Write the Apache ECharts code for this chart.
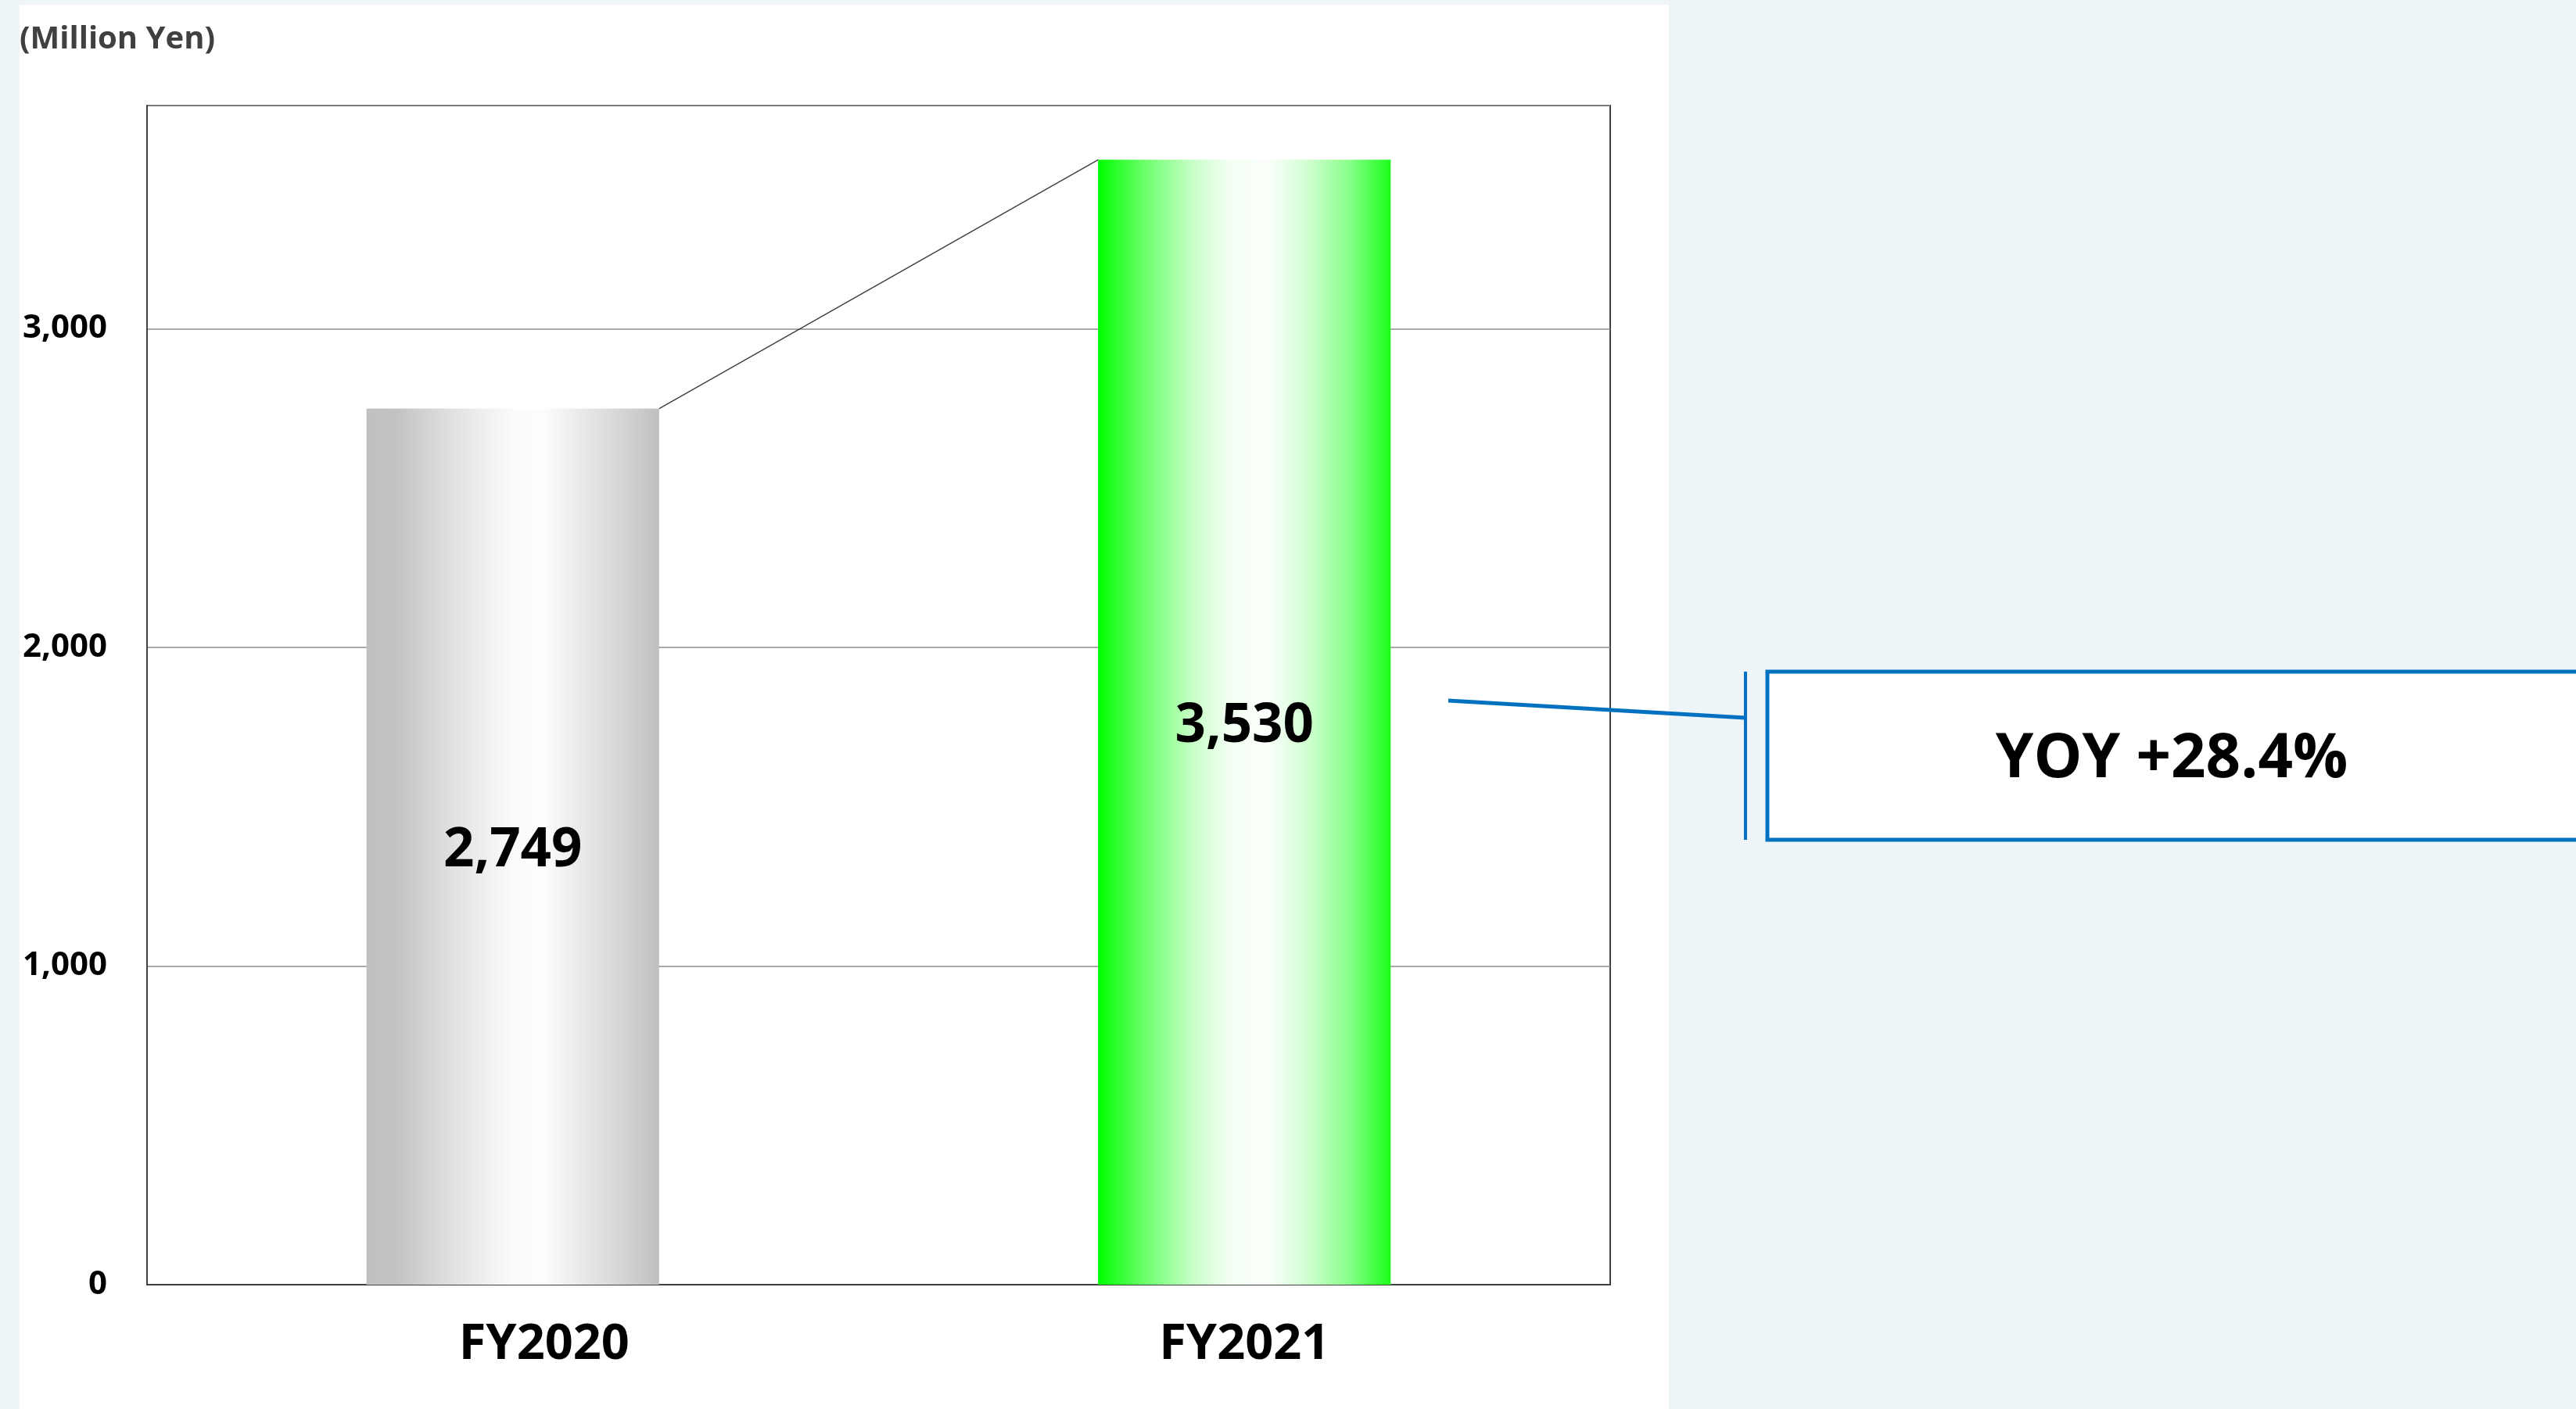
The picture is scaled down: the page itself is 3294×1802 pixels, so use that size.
<!DOCTYPE html>
<html>
<head>
<meta charset="utf-8">
<script src="https://cdn.jsdelivr.net/npm/echarts@6/dist/echarts.min.js"></script>
<style>
  html, body { margin: 0; padding: 0; width: 3294px; height: 1802px; background: #EDF5F9; overflow: hidden; }
  #panel { position: absolute; left: 25px; top: 6px; width: 2109px; height: 1796px; background: #ffffff; }
  #chart { position: absolute; left: 0; top: 0; width: 3294px; height: 1802px; }
</style>
</head>
<body>
<div id="panel"></div>
<div id="chart"></div>
<script>
// ---- data ----
const categories = ['FY2020', 'FY2021'];
const values = [2749, 3530];
const unitLabel = '(Million Yen)';
const yoyPrefix = 'YOY ';

const FONT = '"Open Sans", "Noto Sans", sans-serif';
const fmt = v => v.toLocaleString('en-US');
const yoy = (values[1] / values[0] - 1) * 100;
const yoyText = yoyPrefix + (yoy >= 0 ? '+' : '') + yoy.toFixed(1) + '%';

const gray = {
  type: 'linear', x: 0, y: 0, x2: 1, y2: 0,
  colorStops: [
    { offset: 0, color: '#c0c0c0' },
    { offset: 0.1, color: '#c2c2c2' },
    { offset: 0.3, color: '#e2e2e2' },
    { offset: 0.5, color: '#fbfbfb' },
    { offset: 0.6, color: '#fdfdfd' },
    { offset: 0.8, color: '#e0e0e0' },
    { offset: 1, color: '#c0c0c0' }
  ]
};
const green = {
  type: 'linear', x: 0, y: 0, x2: 1, y2: 0,
  colorStops: [
    { offset: 0, color: '#00ff00' },
    { offset: 0.15, color: '#66ff66' },
    { offset: 0.32, color: '#c6ffc6' },
    { offset: 0.45, color: '#f4fff4' },
    { offset: 0.58, color: '#fbfffb' },
    { offset: 0.72, color: '#cfffcf' },
    { offset: 0.86, color: '#88ff88' },
    { offset: 1, color: '#1aff1a' }
  ]
};
const barColors = [gray, green];
const catLabelPad = [[0, 0, 0, 80], [0, 0, 0, 0]];

const chart = echarts.init(document.getElementById('chart'), null, { renderer: 'canvas' });

chart.setOption({
  backgroundColor: 'transparent',
  animation: false,
  grid: {
    left: 188, top: 135, right: 1235, bottom: 159,
    show: true, borderColor: '#404040', borderWidth: 2, backgroundColor: 'transparent'
  },
  xAxis: {
    type: 'category',
    data: categories.map((c, i) => ({ value: c, textStyle: { padding: catLabelPad[i] } })),
    axisLine: { show: true, lineStyle: { color: '#404040', width: 2 } },
    axisTick: { show: false },
    axisLabel: { color: '#000', fontFamily: FONT, fontWeight: 'bold', fontSize: 63, margin: 46 }
  },
  yAxis: {
    type: 'value',
    min: 0, max: 3700, interval: 1000,
    axisLine: { show: true, lineStyle: { color: '#404040', width: 2 } },
    axisTick: { show: false },
    splitLine: { show: true, lineStyle: { color: '#8c8c8c', width: 1.5 } },
    axisLabel: {
      color: '#000', fontFamily: FONT, fontWeight: 'bold', fontSize: 42, margin: 51,
      showMaxLabel: false,
      formatter: v => (v % 1000 === 0 ? fmt(v) : '')
    }
  },
  series: [
    {
      type: 'bar',
      barWidth: '40%',
      data: values.map((v, i) => ({ value: v, itemStyle: { color: barColors[i] } })),
      label: {
        show: true, position: 'inside', offset: [0, 6],
        color: '#000', fontFamily: FONT, fontWeight: 'bold', fontSize: 69,
        formatter: p => fmt(p.value)
      },
      z: 2
    },
    {
      type: 'custom',
      data: [[0, values[0]]],
      encode: { x: 0, y: 1 },
      z: 3,
      renderItem: function (params, api) {
        const p0 = api.coord([0, values[0]]);
        const p1 = api.coord([1, values[1]]);
        const hw = api.size([1, 0])[0] * 0.4 / 2;
        return {
          type: 'line',
          shape: { x1: p0[0] + hw, y1: p0[1], x2: p1[0] - hw, y2: p1[1] },
          style: { stroke: '#404040', lineWidth: 1.5 }
        };
      }
    }
  ],
  graphic: [
    {
      type: 'text', left: 25, top: 31,
      style: { text: unitLabel, fill: '#404040', font: 'bold 40px ' + FONT }
    },
    {
      type: 'line', z: 10,
      shape: { x1: 1852, y1: 896, x2: 2232, y2: 918 },
      style: { stroke: '#0070C0', lineWidth: 5 }
    },
    {
      type: 'line', z: 10,
      shape: { x1: 2232, y1: 859, x2: 2232, y2: 1074 },
      style: { stroke: '#0070C0', lineWidth: 4 }
    },
    {
      type: 'rect', z: 10,
      shape: { x: 2260, y: 859, width: 1100, height: 215 },
      style: { fill: '#ffffff', stroke: '#0070C0', lineWidth: 5 }
    },
    {
      type: 'text', z: 11,
      x: 2777, y: 972,
      style: {
        text: yoyText, fill: '#000', font: 'bold 78px ' + FONT,
        align: 'center', verticalAlign: 'middle'
      }
    }
  ]
});
</script>
</body>
</html>
